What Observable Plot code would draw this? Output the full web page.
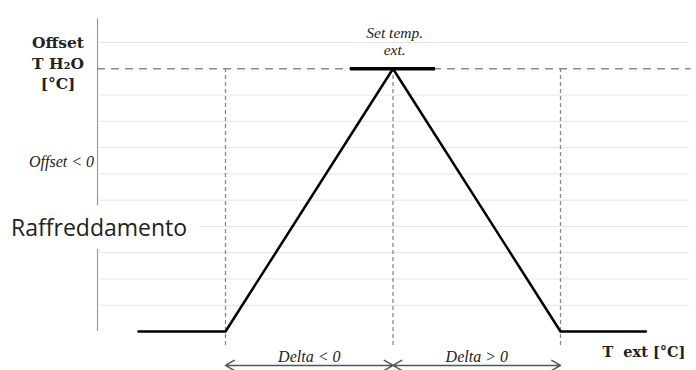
<!DOCTYPE html>
<html>
<head>
<meta charset="utf-8">
<script src="https://cdn.jsdelivr.net/npm/d3@7"></script>
<script src="https://cdn.jsdelivr.net/npm/@observablehq/plot@0.6"></script>
<style>
  html, body { margin: 0; padding: 0; background: #fff; }
</style>
</head>
<body>
<div id="chart"></div>
<script>
// Schematic curve: outdoor temperature (in units of Delta) vs water offset level
const tExt = [-1.52, -1, 0, 1, 1.51];
const offsetLevel = [0, 0, 10, 0, 0];
const gridLevels = [1, 2, 3, 4, 5, 6, 7, 8, 9, 11];
const setLevel = 10;
const deltaMarks = [-1, 0, 1];
const deltaLabels = ["Delta < 0", "Delta > 0"];
const yTitle = ["Offset", "T H₂O", "[°C]"];
const xTitle = "T\u00a0 ext [°C]";
const setLabel = ["Set temp.", "ext."];
const offsetNeg = "Offset < 0";
const modeLabel = "Raffreddamento";

const curve = tExt.map((t, i) => ({t, o: offsetLevel[i]}));
const arrows = [
  {a: -0.5, b: -1}, {a: -0.5, b: 0},
  {a: 0.5, b: 0}, {a: 0.5, b: 1}
];
const serifB = "'DejaVu Serif', serif";
const serifI = "'Liberation Serif', serif";

const chart = Plot.plot({
  width: 696,
  height: 370,
  margin: 0,
  x: {domain: [-1, 1], range: [225, 560], axis: null},
  y: {domain: [0, 11], range: [331, 42], axis: null},
  style: {background: "white", overflow: "visible"},
  marks: [
    Plot.ruleY(gridLevels, {x1: -1.75, x2: 1.77, stroke: "#e3e3e3", strokeWidth: 1}),
    Plot.ruleX([-1.764], {y1: 0, y2: 11.9, stroke: "#9a9a9a", strokeWidth: 1.2}),
    Plot.ruleY([setLevel], {x1: -1.764, x2: 1.78, stroke: "#8a8a8a", strokeWidth: 1.5, strokeDasharray: "8,6"}),
    Plot.ruleX(deltaMarks, {y1: -0.53, y2: setLevel, stroke: "#8a8a8a", strokeWidth: 1.3, strokeDasharray: "4,3"}),
    Plot.line(curve, {x: "t", y: "o", stroke: "black", strokeWidth: 2.5}),
    Plot.ruleY([setLevel], {x1: -0.254, x2: 0.254, stroke: "black", strokeWidth: 3.5}),
    Plot.arrow(arrows, {x1: "a", x2: "b", y1: -1.29, y2: -1.29, stroke: "#555", strokeWidth: 1.5, headLength: 10}),
    Plot.text(deltaLabels, {x: [-0.5, 0.5], y: -0.95, text: d => d, fontFamily: serifI, fontStyle: "italic", fontSize: 16, fill: "#222"}),
    Plot.text(setLabel, {x: 0.01, y: [11.36, 10.7], text: d => d, fontFamily: serifI, fontStyle: "italic", fontSize: 15.5, fill: "#222"}),
    Plot.text(yTitle, {x: -2.0, y: [10.98, 10.17, 9.42], text: d => d, fontFamily: serifB, fontWeight: "bold", fontSize: 15.5, fill: "#222"}),
    Plot.text([offsetNeg], {x: -1.785, y: 6.47, text: d => d, textAnchor: "end", fontFamily: serifI, fontStyle: "italic", fontSize: 16, fill: "#222"}),
    Plot.text([modeLabel], {x: -2.28, y: 3.92, text: d => d, textAnchor: "start", fontFamily: "'Open Sans', sans-serif", fontSize: 23, fill: "#222", stroke: "white", strokeWidth: 26, strokeLinejoin: "miter"}),
    Plot.text([xTitle], {x: 1.25, y: -0.8, text: d => d, textAnchor: "start", fontFamily: serifB, fontWeight: "bold", fontSize: 14.5, fill: "#222"})
  ]
});
document.getElementById("chart").appendChild(chart);
</script>
</body>
</html>
